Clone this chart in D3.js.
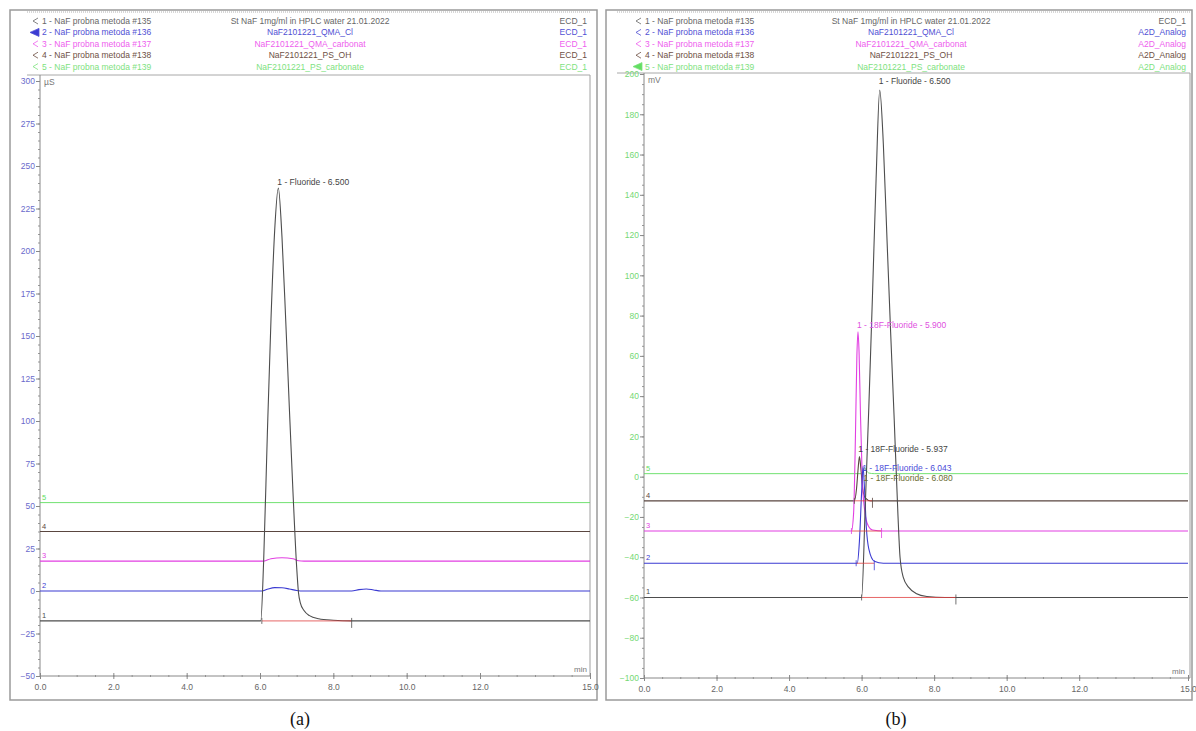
<!DOCTYPE html>
<html>
<head>
<meta charset="utf-8">
<script src="https://cdn.jsdelivr.net/npm/d3@7"></script>
<style>
  body { margin: 0; background: #fff; }
  svg text { font-family: "Liberation Sans", Arial, sans-serif; }
  svg text.caption { font-family: "Liberation Serif", "Times New Roman", serif; }
</style>
</head>
<body>
<div id="vis"></div>
<script>
// legend rows (same five runs in both panels)
const TRACE_NAMES = ["1 - NaF probna metoda #135", "2 - NaF probna metoda #136", "3 - NaF probna metoda #137",
                     "4 - NaF probna metoda #138", "5 - NaF probna metoda #139"];
const SAMPLE_NAMES = ["St NaF 1mg/ml in HPLC water 21.01.2022", "NaF2101221_QMA_Cl", "NaF2101221_QMA_carbonat",
                      "NaF2101221_PS_OH", "NaF2101221_PS_carbonate"];
const CHANNELS_A = ["ECD_1", "ECD_1", "ECD_1", "ECD_1", "ECD_1"];
const CHANNELS_B = ["ECD_1", "A2D_Analog", "A2D_Analog", "A2D_Analog", "A2D_Analog"];

// tick labels
const X_TICKS = [0, 2, 4, 6, 8, 10, 12, 15];
const Y_TICKS_A = [-50, -25, 0, 25, 50, 75, 100, 125, 150, 175, 200, 225, 250, 275, 300];
const Y_TICKS_B = [-100, -80, -60, -40, -20, 0, 20, 40, 60, 80, 100, 120, 140, 160, 180, 200];

// panel (a) traces: [min, µS]
const A_T1 = [[0,-17.6],[6.02,-17.6],[6.1,18],[6.2,92],[6.3,160],[6.4,212],[6.5,237],[6.6,208],[6.7,160],
              [6.8,108],[6.9,58],[7.0,14],[7.05,-1],[7.1,-7],[7.2,-11.5],[7.35,-14.5],[7.6,-16.3],[8.0,-17.2],
              [8.5,-17.6],[15,-17.6]];
const A_T2 = [[0,0],[6.05,0],[6.2,1],[6.4,2],[6.6,1.9],[6.8,1.2],[7.0,0.3],[7.2,0],[8.5,0],[8.7,0.8],
              [8.9,1.2],[9.1,0.6],[9.3,0],[15,0]];
const A_T3 = [[0,17.6],[6.1,17.6],[6.3,19],[6.6,19.6],[6.9,19],[7.05,17.8],[7.2,17.6],[15,17.6]];
const A_T4 = [[0,35],[15,35]];
const A_T5 = [[0,52],[15,52]];

// panel (b) traces: [min, mV]
const B_T1 = [[0,-60],[6.0,-60],[6.1,-15],[6.2,35],[6.3,90],[6.4,148],[6.5,192],[6.6,165],[6.7,118],
              [6.8,72],[6.9,28],[7.0,-18],[7.06,-40],[7.15,-50],[7.3,-55],[7.5,-58],[7.8,-59.5],[8.3,-60],[15,-60]];
const B_T2 = [[0,-43],[5.88,-43],[5.94,-32],[6.0,-8],[6.04,5],[6.08,-6],[6.13,-25],[6.2,-36],[6.35,-42],
              [6.6,-43],[15,-43]];
const B_T3 = [[0,-27],[5.72,-27],[5.78,-18],[5.83,20],[5.87,60],[5.9,72],[5.93,62],[5.97,30],[6.02,-2],
              [6.08,-16],[6.15,-23],[6.3,-26.5],[6.6,-27],[15,-27]];
const B_T4 = [[0,-12],[5.8,-12],[5.86,-6],[5.9,3],[5.94,10],[5.98,4],[6.03,-6],[6.1,-10.5],[6.25,-12],[15,-12]];
const B_T5 = [[0,1.5],[5.98,1.5],[6.04,3],[6.08,4.5],[6.13,3],[6.2,1.8],[6.35,1.5],[15,1.5]];

// peak annotations: [trace index, time, label level, text]
const A_PEAKS = [[0, 6.5, 239, "1 - Fluoride - 6.500"]];
const B_PEAKS = [[0, 6.5, 195, "1 - Fluoride - 6.500"],
                 [2, 5.9, 74, "1 - 18F-Fluoride - 5.900"],
                 [3, 5.937, 12.5, "1 - 18F-Fluoride - 5.937"],
                 [1, 6.043, 3, "1 - 18F-Fluoride - 6.043"],
                 [4, 6.080, -2, "1 - 18F-Fluoride - 6.080"]];

// integration baselines: [trace index, start, end, level]
const A_INT = [[0, 6.05, 8.5, -17.6]];
const B_INT = [[0, 6.0, 8.6, -60], [3, 5.8, 6.3, -12], [2, 5.72, 6.55, -27], [1, 5.85, 6.35, -43]];

const TRACE_COLORS = ["#4d4d4d", "#3b3bd2", "#e23fe2", "#5a4640", "#62de62"];
const LEGEND_COLORS = ["#666666", "#5050d4", "#ee60ee", "#6e5044", "#7ee27e"];

const SVG = d3.select("#vis").append("svg")
    .attr("width", 1196).attr("height", 731);

function drawPanel(p) {
  const g = SVG.append("g");
  const x = d3.scaleLinear().domain([0, 15]).range([p.left, p.right]);
  const y = d3.scaleLinear().domain(p.yDomain).range([p.bottom, p.top]);

  // outer frame
  g.append("rect").attr("x", p.frame[0]).attr("y", p.frame[1])
    .attr("width", p.frame[2]).attr("height", p.frame[3])
    .attr("fill", "none").attr("stroke", "#9a9a9a").attr("stroke-width", 1.5);

  // legend box
  g.append("line").attr("x1", p.legLeft).attr("x2", p.plotRight)
    .attr("y1", 12).attr("y2", 12).attr("stroke", "#b0b0b0").attr("stroke-dasharray", "1,1");
  g.append("line").attr("x1", p.legLeft).attr("x2", p.plotRight)
    .attr("y1", p.legBottom).attr("y2", p.legBottom).attr("stroke", "#a8a8a8");

  const rows = g.selectAll(".row").data(TRACE_NAMES).enter().append("g")
    .attr("transform", (d, i) => "translate(0," + (24 + i * 11.4) + ")");
  rows.append("text").attr("x", p.legText).text(d => d)
    .attr("font-size", 8.5).attr("fill", (d, i) => LEGEND_COLORS[i]);
  rows.append("text").attr("x", p.legMid).attr("text-anchor", "middle")
    .text((d, i) => SAMPLE_NAMES[i])
    .attr("font-size", 8.5).attr("fill", (d, i) => LEGEND_COLORS[i]);
  rows.append("text").attr("x", p.legEnd).attr("text-anchor", "end")
    .text((d, i) => p.channels[i])
    .attr("font-size", 8.5).attr("fill", (d, i) => LEGEND_COLORS[i]);
  rows.append("path")
    .attr("d", (d, i) => i === p.selected
      ? "M" + (p.legText - 12) + ",-3 L" + (p.legText - 3) + ",-7 L" + (p.legText - 3) + ",1 Z"
      : "M" + (p.legText - 4) + ",-6 L" + (p.legText - 9) + ",-3 L" + (p.legText - 4) + ",0")
    .attr("fill", (d, i) => i === p.selected ? TRACE_COLORS[i] : "none")
    .attr("stroke", (d, i) => LEGEND_COLORS[i]).attr("stroke-width", 0.8);

  // plot right border
  g.append("line").attr("x1", p.plotRight).attr("x2", p.plotRight)
    .attr("y1", p.legBottom).attr("y2", p.bottom).attr("stroke", "#a0a0a0");

  // y axis
  const yMinor = g.append("g").attr("transform", "translate(" + p.left + ",0)")
    .call(d3.axisLeft(y).tickValues(d3.range(p.yDomain[0], p.yDomain[1] + 0.1, p.yMinor))
      .tickSize(2).tickFormat(""));
  yMinor.select(".domain").remove();
  yMinor.selectAll("line").attr("stroke", "#999");
  const yAxis = g.append("g").attr("transform", "translate(" + p.left + ",0)")
    .call(d3.axisLeft(y).tickValues(p.yTicks).tickSize(4).tickPadding(1));
  yAxis.select(".domain").attr("stroke", "#888").attr("d", "M0," + p.bottom + "V" + p.legBottom);
  yAxis.selectAll("line").attr("stroke", "#888");
  yAxis.selectAll("text").attr("font-size", 8.5).attr("fill", p.yColor);

  // x axis
  const xMinor = g.append("g").attr("transform", "translate(0," + p.bottom + ")")
    .call(d3.axisBottom(x).tickValues(d3.range(0, 15.01, 0.5)).tickSize(2).tickFormat(""));
  xMinor.select(".domain").remove();
  xMinor.selectAll("line").attr("stroke", "#999").attr("transform", "translate(0,-1)");
  const xAxis = g.append("g").attr("transform", "translate(0," + p.bottom + ")")
    .call(d3.axisBottom(x).tickValues(X_TICKS).tickFormat(d3.format(".1f")).tickSize(3).tickPadding(5));
  xAxis.select(".domain").attr("stroke", "#888").attr("d", "M" + p.left + ",0H" + p.plotRight);
  xAxis.selectAll("line").attr("stroke", "#888").attr("y1", -3);
  xAxis.selectAll("text").attr("font-size", 8.5).attr("fill", "#666");

  g.append("text").attr("x", p.right - 3).attr("y", p.bottom - 4).attr("text-anchor", "end")
    .attr("font-size", 8).attr("fill", "#777").text("min");
  g.append("text").attr("x", p.left + 4).attr("y", p.legBottom + 10)
    .attr("font-size", 8.5).attr("fill", "#777").text(p.unit);

  // traces
  const clipId = "clip" + p.id;
  g.append("clipPath").attr("id", clipId).append("rect")
    .attr("x", p.left).attr("y", p.legBottom + 1)
    .attr("width", p.plotRight - p.left).attr("height", p.bottom - p.legBottom - 1);
  const line = d3.line().x(d => x(d[0])).y(d => y(d[1])).curve(d3.curveMonotoneX);
  const order = [4, 3, 2, 1, 0];
  const traces = g.append("g").attr("clip-path", "url(#" + clipId + ")");
  traces.selectAll("path").data(order).enter().append("path")
    .attr("d", i => line(p.traces[i]))
    .attr("fill", "none").attr("stroke", i => TRACE_COLORS[i])
    .attr("stroke-width", i => i === 4 ? 0.9 : 1.1);

  // baseline numbers
  g.selectAll(".num").data(order).enter().append("text")
    .attr("x", p.left + 2).attr("y", i => y(p.traces[i][0][1]) - 3)
    .attr("font-size", 7.5).attr("fill", i => TRACE_COLORS[i]).text(i => i + 1);

  // integration baselines
  const ints = g.selectAll(".int").data(p.ints).enter().append("g");
  ints.append("line").attr("x1", d => x(d[1])).attr("x2", d => x(d[2]))
    .attr("y1", d => y(d[3])).attr("y2", d => y(d[3]))
    .attr("stroke", "#e04040").attr("stroke-width", 0.8);
  ints.append("line").attr("x1", d => x(d[1])).attr("x2", d => x(d[1]))
    .attr("y1", d => y(d[3]) - 3).attr("y2", d => y(d[3]) + 3)
    .attr("stroke", d => TRACE_COLORS[d[0]]).attr("stroke-width", 0.8);
  ints.append("line").attr("x1", d => x(d[2])).attr("x2", d => x(d[2]))
    .attr("y1", d => y(d[3]) - 3).attr("y2", d => y(d[3]) + 7)
    .attr("stroke", d => TRACE_COLORS[d[0]]).attr("stroke-width", 0.8);

  // peak labels
  g.selectAll(".peak").data(p.peaks).enter().append("text")
    .attr("x", d => x(d[1]) - 1).attr("y", d => y(d[2]))
    .attr("font-size", 8.5)
    .attr("fill", d => d[0] === 4 ? "#6b6b30" : d[0] === 2 ? "#e050e0" : d[0] === 1 ? "#4a4ad8" : "#444")
    .text(d => d[3]);

  // panel caption
  g.append("text").attr("class", "caption").attr("x", p.caption).attr("y", 725)
    .attr("text-anchor", "middle").attr("font-size", 18)
    .attr("fill", "#111").text(p.captionText);
}

drawPanel({
  id: "a", frame: [10, 10, 587, 690], left: 40, right: 590, plotRight: 590,
  top: 81, bottom: 676, yDomain: [-50, 300], yMinor: 5, yTicks: Y_TICKS_A, yColor: "#6a6acc",
  legLeft: 27, legBottom: 75, legText: 42, legMid: 310, legEnd: 587, selected: 1,
  channels: CHANNELS_A, unit: "µS",
  traces: [A_T1, A_T2, A_T3, A_T4, A_T5], peaks: A_PEAKS, ints: A_INT,
  caption: 300, captionText: "(a)"
});

drawPanel({
  id: "b", frame: [606, 10, 586, 690], left: 644, right: 1188, plotRight: 1190,
  top: 74, bottom: 678, yDomain: [-100, 200], yMinor: 5, yTicks: Y_TICKS_B, yColor: "#74d874",
  legLeft: 617, legBottom: 73, legText: 645, legMid: 911, legEnd: 1186, selected: 4,
  channels: CHANNELS_B, unit: "mV",
  traces: [B_T1, B_T2, B_T3, B_T4, B_T5], peaks: B_PEAKS, ints: B_INT,
  caption: 896, captionText: "(b)"
});
</script>
</body>
</html>
